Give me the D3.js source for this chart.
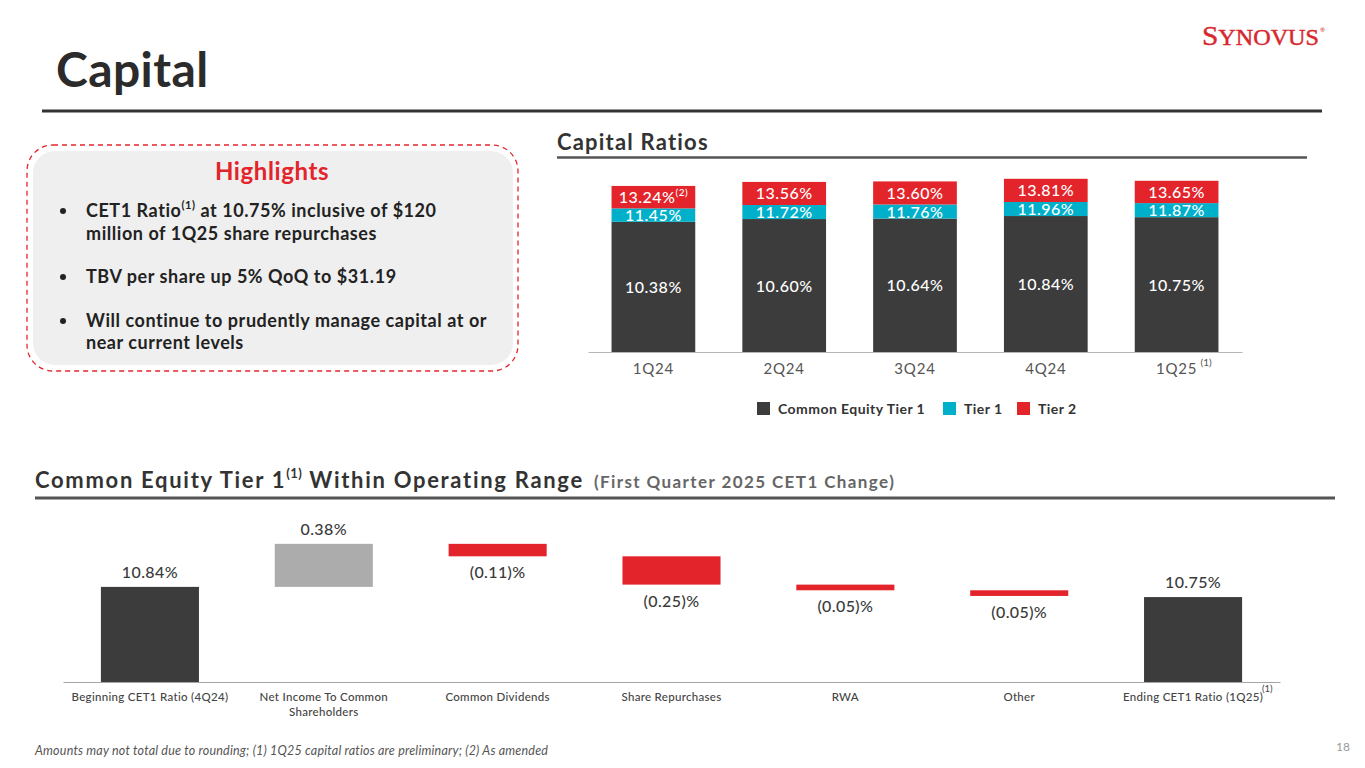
<!DOCTYPE html>
<html>
<head>
<meta charset="utf-8">
<script src="https://cdn.jsdelivr.net/npm/d3@7"></script>
<style>
  html, body { margin: 0; padding: 0; background: #ffffff; }
  svg { display: block; font-family: Lato, "Open Sans", sans-serif; }
</style>
</head>
<body>
<svg id="chart" width="1365" height="768"></svg>
<script>
// ---------- DATA ----------
const quarters = ["1Q24", "2Q24", "3Q24", "4Q24", "1Q25"];
const cet1Ratio = [10.38, 10.60, 10.64, 10.84, 10.75];
const tier1Ratio = [11.45, 11.72, 11.76, 11.96, 11.87];
const totalRatio = [13.24, 13.56, 13.60, 13.81, 13.65];
const quarterNotes = ["", "", "", "", "(1)"];
const totalNotes = ["(2)", "", "", "", ""];
const legendLabels = ["Common Equity Tier 1", "Tier 1", "Tier 2"];

const wfCategories = ["Beginning CET1 Ratio (4Q24)", "Net Income To Common Shareholders", "Common Dividends",
  "Share Repurchases", "RWA", "Other", "Ending CET1 Ratio (1Q25)"];
const wfValues = [10.84, 0.38, -0.11, -0.25, -0.05, -0.05, 10.75];
const wfTypes = ["total", "delta", "delta", "delta", "delta", "delta", "total"];
const wfLabels = ["10.84%", "0.38%", "(0.11)%", "(0.25)%", "(0.05)%", "(0.05)%", "10.75%"];

const bullets = [
  ["CET1 Ratio|(1)| at 10.75% inclusive of $120", "million of 1Q25 share repurchases"],
  ["TBV per share up 5% QoQ to $31.19"],
  ["Will continue to prudently manage capital at or", "near current levels"]
];

// ---------- STYLE ----------
const C = { dark: "#3c3c3c", blue: "#00b0ca", red: "#e3242b", gray: "#aaaaaa", text: "#333333" };

const svg = d3.select("#chart");

// Title + logo
svg.append("text").attr("x", 56).attr("y", 87).attr("font-size", 48).attr("font-weight", 700)
  .attr("letter-spacing", 0.4).attr("fill", "#2b2b2b").text("Capital");
svg.append("line").attr("x1", 42).attr("x2", 1322).attr("y1", 111).attr("y2", 111)
  .attr("stroke", "#333").attr("stroke-width", 3);

const logoG = svg.append("g").attr("transform", "translate(1202,45) scale(1.05,1)");
const logo = logoG.append("text").attr("x", 0).attr("y", 0)
  .attr("font-family", "'Liberation Serif', 'DejaVu Serif', serif").attr("fill", "#d7282f")
  .attr("stroke", "#d7282f").attr("stroke-width", 0.45);
logo.append("tspan").attr("font-size", 28).text("S");
logo.append("tspan").attr("font-size", 23).text("YNOVUS");
logo.append("tspan").attr("font-size", 6).attr("stroke-width", 0).attr("dy", -13).attr("dx", 1)
  .attr("font-family", "Lato, sans-serif").text("®");

// ---------- Highlights box ----------
svg.append("rect").attr("x", 33).attr("y", 151).attr("width", 480).attr("height", 214).attr("rx", 22)
  .attr("fill", "#efefef");
svg.append("rect").attr("x", 27).attr("y", 145).attr("width", 491).attr("height", 226).attr("rx", 26)
  .attr("fill", "none").attr("stroke", C.red).attr("stroke-width", 1.3).attr("stroke-dasharray", "5,4");
svg.append("text").attr("x", 272).attr("y", 180).attr("text-anchor", "middle").attr("font-size", 24)
  .attr("letter-spacing", 0.6).attr("font-weight", 700).attr("fill", C.red).text("Highlights");

const lineYs = [[217, 240], [283], [327, 349]];
bullets.forEach((b, i) => {
  svg.append("circle").attr("cx", 63).attr("cy", lineYs[i][0] - 6).attr("r", 3).attr("fill", "#222");
  b.forEach((ln, j) => {
    const t = svg.append("text").attr("x", 86).attr("y", lineYs[i][j]).attr("font-size", 18)
      .attr("letter-spacing", 0.55).attr("font-weight", 700).attr("fill", "#222");
    const parts = ln.split("|");
    parts.forEach((p, k) => {
      if (k === 1) t.append("tspan").attr("font-size", 11).attr("dy", -8).text(p);
      else if (k === 2) t.append("tspan").attr("dy", 8).text(p);
      else t.append("tspan").text(p);
    });
  });
});

// ---------- Capital Ratios chart ----------
svg.append("text").attr("x", 557).attr("y", 150).attr("font-size", 22).attr("font-weight", 700)
  .attr("letter-spacing", 1.2).attr("fill", "#333").text("Capital Ratios");
svg.append("line").attr("x1", 557).attr("x2", 1307).attr("y1", 157.5).attr("y2", 157.5)
  .attr("stroke", "#555").attr("stroke-width", 2.5);

const x1 = d3.scaleBand().domain(quarters).range([588, 1242]).paddingInner(0.36).paddingOuter(0.18);
const y1 = d3.scaleLinear().domain([0, 14]).range([352, 176.4]);

const stackRows = quarters.map((q, i) => ({
  q, segs: [
    { y0: 0, y1: cet1Ratio[i], color: C.dark, label: cet1Ratio[i].toFixed(2) + "%", note: "" },
    { y0: cet1Ratio[i], y1: tier1Ratio[i], color: C.blue, label: tier1Ratio[i].toFixed(2) + "%", note: "" },
    { y0: tier1Ratio[i], y1: totalRatio[i], color: C.red, label: totalRatio[i].toFixed(2) + "%", note: totalNotes[i] }
  ]
}));

const g1 = svg.append("g");
stackRows.forEach(r => {
  r.segs.forEach(s => {
    g1.append("rect").attr("x", x1(r.q)).attr("width", x1.bandwidth())
      .attr("y", y1(s.y1)).attr("height", y1(s.y0) - y1(s.y1)).attr("fill", s.color);
  });
  r.segs.forEach(s => {
    const t = g1.append("text").attr("x", x1(r.q) + x1.bandwidth() / 2)
      .attr("y", (y1(s.y0) + y1(s.y1)) / 2 + 6).attr("text-anchor", "middle")
      .attr("font-size", 16).attr("letter-spacing", 0.5).attr("font-weight", 500).attr("fill", "#ffffff");
    t.append("tspan").text(s.label);
    if (s.note) t.append("tspan").attr("font-size", 10).attr("dy", -7).text(s.note);
  });
});

const ax1 = g1.append("g").attr("transform", "translate(0,352)")
  .call(d3.axisBottom(x1).tickSize(0).tickPadding(0).tickFormat(() => ""));
ax1.select(".domain").attr("stroke", "#b5b5b5").attr("stroke-width", 1.2);
quarters.forEach((q, i) => {
  g1.append("text").attr("x", x1(q) + x1.bandwidth() / 2).attr("y", 374)
    .attr("text-anchor", "middle").attr("font-size", 15).attr("letter-spacing", 0.8).attr("fill", "#555").text(q);
  if (quarterNotes[i]) {
    g1.append("text").attr("x", x1(q) + x1.bandwidth() / 2 + 24).attr("y", 366)
      .attr("font-size", 10).attr("fill", "#555").text(quarterNotes[i]);
  }
});

// legend
const legX = [757, 943, 1017];
const legC = [C.dark, C.blue, C.red];
legendLabels.forEach((l, i) => {
  svg.append("rect").attr("x", legX[i]).attr("y", 402).attr("width", 13).attr("height", 13).attr("fill", legC[i]);
  svg.append("text").attr("x", legX[i] + 21).attr("y", 414).attr("font-size", 14).attr("font-weight", 700)
    .attr("letter-spacing", 0.45).attr("fill", "#333").text(l);
});

// ---------- Waterfall ----------
const h2 = svg.append("text").attr("x", 35).attr("y", 488).attr("font-size", 22).attr("font-weight", 700)
  .attr("letter-spacing", 1.7).attr("fill", "#333");
h2.append("tspan").text("Common Equity Tier 1");
h2.append("tspan").attr("font-size", 13).attr("letter-spacing", 0.5).attr("dy", -10).text("(1)");
h2.append("tspan").attr("dy", 10).text(" Within Operating Range");
h2.append("tspan").attr("font-size", 17).attr("letter-spacing", 1.4).attr("fill", "#666").attr("dx", 10)
  .text("(First Quarter 2025 CET1 Change)");
svg.append("line").attr("x1", 35).attr("x2", 1335).attr("y1", 498).attr("y2", 498)
  .attr("stroke", "#555").attr("stroke-width", 3);

const x2 = d3.scaleBand().domain(wfCategories).range([63, 1280]).paddingInner(0.436).paddingOuter(0.218);
const y2 = d3.scaleLinear().domain([10, 11.3]).range([682, 534.8]);

let running = 0;
const wf = wfCategories.map((c, i) => {
  let a, b;
  if (wfTypes[i] === "total") { a = 10; b = wfValues[i]; running = wfValues[i]; }
  else { a = running; b = running + wfValues[i]; running = b; }
  return { c, lo: Math.min(a, b), hi: Math.max(a, b), v: wfValues[i], type: wfTypes[i], label: wfLabels[i] };
});

const g2 = svg.append("g");
wf.forEach(d => {
  const color = d.type === "total" ? C.dark : (d.v >= 0 ? "#acacac" : C.red);
  g2.append("rect").attr("x", x2(d.c)).attr("width", x2.bandwidth())
    .attr("y", y2(d.hi)).attr("height", y2(d.lo) - y2(d.hi)).attr("fill", color);
  const ly = d.v >= 0 ? y2(d.hi) - 9 : y2(d.lo) + 22;
  g2.append("text").attr("x", x2(d.c) + x2.bandwidth() / 2).attr("y", ly).attr("text-anchor", "middle")
    .attr("font-size", 16).attr("letter-spacing", 0.4).attr("font-weight", 500).attr("fill", "#3a3a3a").text(d.label);
});
const ax2 = g2.append("g").attr("transform", "translate(0,682)")
  .call(d3.axisBottom(x2).tickSize(0).tickPadding(0).tickFormat(() => ""));
ax2.select(".domain").attr("stroke", "#a5a5a5").attr("stroke-width", 1.2);

wfCategories.forEach((c, i) => {
  const cx = x2(c) + x2.bandwidth() / 2;
  const t = g2.append("text").attr("x", cx).attr("y", 701).attr("text-anchor", "middle")
    .attr("font-size", 11.5).attr("letter-spacing", 0.3).attr("font-weight", 500).attr("fill", "#444");
  if (c === "Net Income To Common Shareholders") {
    t.append("tspan").attr("x", cx).text("Net Income To Common");
    t.append("tspan").attr("x", cx).attr("dy", 15).text("Shareholders");
  } else {
    t.text(c);
  }
  if (i === wfCategories.length - 1) {
    g2.append("text").attr("x", cx + 69).attr("y", 692).attr("font-size", 9.5).attr("fill", "#444").text("(1)");
  }
});

// footnote + page number
svg.append("text").attr("x", 35).attr("y", 755).attr("font-size", 12.5).attr("font-style", "italic")
  .attr("letter-spacing", 0.2).attr("fill", "#555")
  .text("Amounts may not total due to rounding; (1) 1Q25 capital ratios are preliminary; (2) As amended");
svg.append("text").attr("x", 1336).attr("y", 751).attr("font-size", 12).attr("fill", "#999").text("18");
</script>
</body>
</html>
